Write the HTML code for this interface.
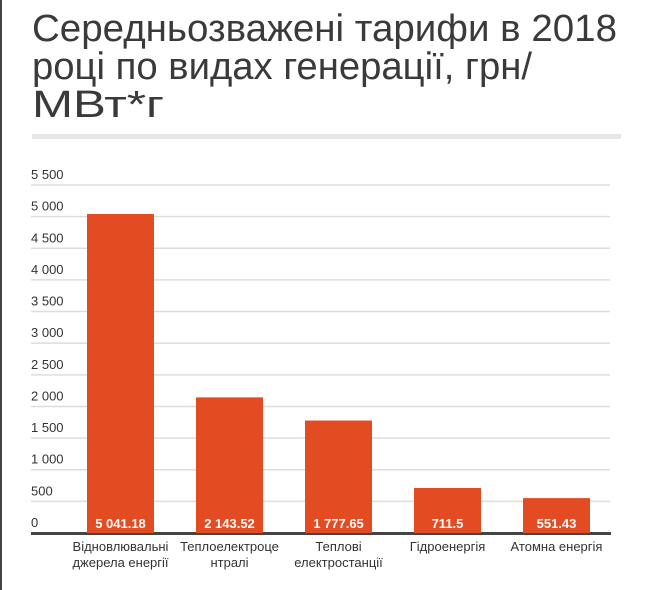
<!DOCTYPE html>
<html><head><meta charset="utf-8"><style>
body{margin:0;background:#fff;width:650px;height:590px;overflow:hidden}
svg{display:block;font-family:"Liberation Sans",sans-serif}
</style></head><body>
<svg id="chart" width="650" height="590">
<rect x="0" y="0" width="2" height="590" fill="#444"/>
<g fill="#3a3a3a" font-size="38">
<text x="32" y="41" textLength="585" lengthAdjust="spacingAndGlyphs">Середньозважені тарифи в 2018</text>
<text x="32" y="79" textLength="500" lengthAdjust="spacingAndGlyphs">році по видах генерації, грн/</text>
<text x="32" y="117" textLength="132" lengthAdjust="spacingAndGlyphs">МВт*г</text>
</g>
<rect x="32" y="134" width="589" height="5" fill="#e6e6e6"/>
<g id="grid"></g><g id="bars"></g><g id="xl"></g>
</svg>
<script>
const categories=[["Відновлювальні","джерела енергії"],["Теплоелектроце","нтралі"],["Теплові","електростанції"],["Гідроенергія"],["Атомна енергія"]];
const values=[5041.18,2143.52,1777.65,711.5,551.43];
const valueLabels=["5 041.18","2 143.52","1 777.65","711.5","551.43"];
const ticks=[0,500,1000,1500,2000,2500,3000,3500,4000,4500,5000,5500];
const tickLabels=["0","500","1 000","1 500","2 000","2 500","3 000","3 500","4 000","4 500","5 000","5 500"];
const NS="http://www.w3.org/2000/svg";
const y=v=>533-v*(348/5500);
const xb=i=>87+i*109;
function mk(t,a,p){const e=document.createElementNS(NS,t);for(const k in a)e.setAttribute(k,a[k]);p.appendChild(e);return e;}
const g=document.getElementById('grid');
ticks.forEach((t,i)=>{
 if(i>0){const l=mk('line',{x1:31,x2:610,y1:y(t),y2:y(t),stroke:'#ddd','stroke-width':1.5},g);
 
 }
 const tx=mk('text',{x:31,y:y(t)-6,'font-size':13,fill:'#333'},g);tx.textContent=tickLabels[i];
 
 
});
const b=document.getElementById('bars');
values.forEach((v,i)=>{
 const r=mk('rect',{x:xb(i),y:y(v),width:67,height:533-y(v),fill:'#e34c22'},b);
 
 
 const t=mk('text',{x:xb(i)+33.5,y:528,'font-size':13,'font-weight':'bold',fill:'#fff','text-anchor':'middle'},b);t.textContent=valueLabels[i];
 
 
});
const ax=mk('rect',{x:31,y:532,width:580,height:3,fill:'#444'},g);


const xl=document.getElementById('xl');
categories.forEach((c,i)=>{
 c.forEach((s,j)=>{
  const t=mk('text',{x:xb(i)+33.5,y:551+j*16,'font-size':13,fill:'#333','text-anchor':'middle'},xl);t.textContent=s;
  
  
 });
});
</script>
</body></html>
